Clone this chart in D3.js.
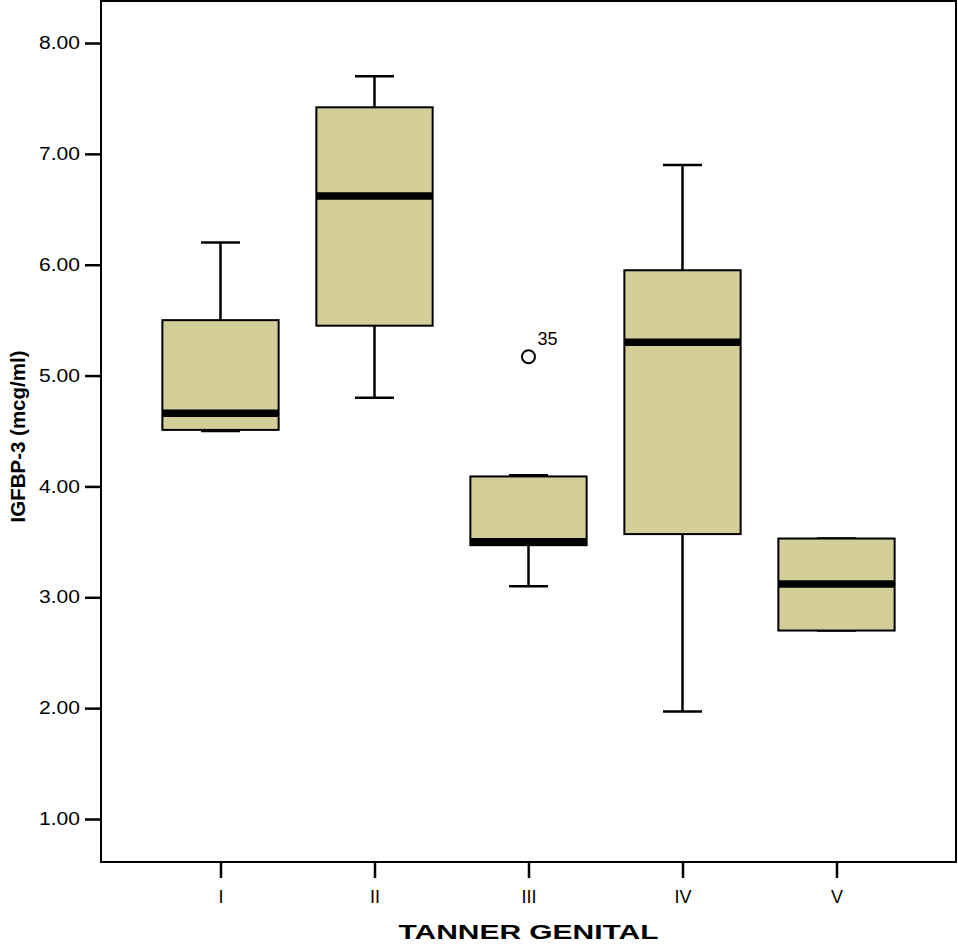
<!DOCTYPE html>
<html>
<head>
<meta charset="utf-8">
<script src="https://cdn.jsdelivr.net/npm/d3@7"></script>
<style>
    body { margin: 0; background: #fff; }
    text { font-family: "Liberation Sans", Arial, sans-serif; fill: #000; }
</style>
</head>
<body>
<div id="chart"></div>
<script>
// Tanner genital stage box plot of IGFBP-3

const categories = ['I', 'II', 'III', 'IV', 'V'];
const whiskerLow  = [4.50, 4.80, 3.10, 1.97, 2.70];
const q1          = [4.51, 5.45, 3.47, 3.57, 2.70];
const medians     = [4.66, 6.62, 3.50, 5.30, 3.12];
const q3          = [5.50, 7.42, 4.09, 5.95, 3.53];
const whiskerHigh = [6.20, 7.70, 4.10, 6.90, 3.53];
const outliers = [{ cat: 'III', value: 5.17, label: '35' }];
const yTicks = [1, 2, 3, 4, 5, 6, 7, 8];
const yExtent = [0.612, 8.379];

const width = 958, height = 945;
const plot = { left: 101, right: 956, top: 1, bottom: 862 };

const svg = d3.select('#chart').append('svg')
    .attr('width', width)
    .attr('height', height);

const x = d3.scalePoint()
    .domain(categories)
    .range([plot.left, plot.right])
    .padding(0.776);

const y = d3.scaleLinear()
    .domain(yExtent)
    .range([plot.bottom, plot.top]);

const boxWidth = x.step() * 0.755;
const capWidth = 39;

const boxes = categories.map((c, i) => ({
    cat: c, lo: whiskerLow[i], q1: q1[i], med: medians[i], q3: q3[i], hi: whiskerHigh[i]
}));

// frame
svg.append('rect')
    .attr('x', plot.left).attr('y', plot.top)
    .attr('width', plot.right - plot.left).attr('height', plot.bottom - plot.top)
    .attr('fill', 'none').attr('stroke', '#000').attr('stroke-width', 2);

// y axis
const yAxis = d3.axisLeft(y).tickValues(yTicks).tickFormat(d3.format('.2f')).tickSize(16).tickPadding(5);
const gy = svg.append('g').attr('transform', `translate(${plot.left},0)`).call(yAxis);
gy.select('.domain').remove();
gy.selectAll('.tick line').attr('stroke', '#000').attr('stroke-width', 2.5);
gy.selectAll('.tick text')
    .attr('font-size', 17.5)
    .attr('textLength', 41)
    .attr('lengthAdjust', 'spacingAndGlyphs')
    .style('font-family', '"Liberation Sans", Arial, sans-serif');

// x axis
const xAxis = d3.axisBottom(x).tickSize(16).tickPadding(12);
const gx = svg.append('g').attr('transform', `translate(0,${plot.bottom})`).call(xAxis);
gx.select('.domain').remove();
gx.selectAll('.tick line').attr('stroke', '#000').attr('stroke-width', 2.5);
gx.selectAll('.tick text')
    .attr('font-size', 18)
    .style('font-family', '"Liberation Sans", Arial, sans-serif');

const g = svg.append('g');
const box = g.selectAll('g.box').data(boxes).enter().append('g').attr('class', 'box');

// whiskers
box.append('line')
    .attr('x1', d => x(d.cat)).attr('x2', d => x(d.cat))
    .attr('y1', d => y(d.hi)).attr('y2', d => y(d.lo))
    .attr('stroke', '#000').attr('stroke-width', 2.5);
box.append('line')
    .attr('x1', d => x(d.cat) - capWidth / 2).attr('x2', d => x(d.cat) + capWidth / 2)
    .attr('y1', d => y(d.hi)).attr('y2', d => y(d.hi))
    .attr('stroke', '#000').attr('stroke-width', 2.5);
box.append('line')
    .attr('x1', d => x(d.cat) - capWidth / 2).attr('x2', d => x(d.cat) + capWidth / 2)
    .attr('y1', d => y(d.lo)).attr('y2', d => y(d.lo))
    .attr('stroke', '#000').attr('stroke-width', 2.5);

// boxes
box.append('rect')
    .attr('x', d => x(d.cat) - boxWidth / 2)
    .attr('width', boxWidth)
    .attr('y', d => y(d.q3))
    .attr('height', d => y(d.q1) - y(d.q3))
    .attr('fill', '#d3ce97')
    .attr('stroke', '#000').attr('stroke-width', 2);

// medians
box.append('line')
    .attr('x1', d => x(d.cat) - boxWidth / 2).attr('x2', d => x(d.cat) + boxWidth / 2)
    .attr('y1', d => y(d.med)).attr('y2', d => y(d.med))
    .attr('stroke', '#000').attr('stroke-width', 7.5);

// outliers
const out = g.selectAll('g.outlier').data(outliers).enter().append('g').attr('class', 'outlier');
out.append('circle')
    .attr('cx', d => x(d.cat)).attr('cy', d => y(d.value))
    .attr('r', 6.5)
    .attr('fill', 'none').attr('stroke', '#000').attr('stroke-width', 2);
out.append('text')
    .attr('x', d => x(d.cat) + 9).attr('y', d => y(d.value) - 12)
    .attr('font-size', 18)
    .text(d => d.label);

// axis titles
svg.append('text')
    .attr('x', (plot.left + plot.right) / 2)
    .attr('y', 939)
    .attr('text-anchor', 'middle')
    .attr('font-size', 21)
    .attr('font-weight', 'bold')
    .attr('textLength', 260)
    .attr('lengthAdjust', 'spacingAndGlyphs')
    .text('TANNER GENITAL');

svg.append('text')
    .attr('transform', `translate(25,${(plot.top + plot.bottom) / 2 + 5}) rotate(-90)`)
    .attr('text-anchor', 'middle')
    .attr('font-size', 21)
    .attr('font-weight', 'bold')
    .attr('textLength', 172)
    .attr('lengthAdjust', 'spacingAndGlyphs')
    .text('IGFBP-3 (mcg/ml)');
</script>
</body>
</html>
